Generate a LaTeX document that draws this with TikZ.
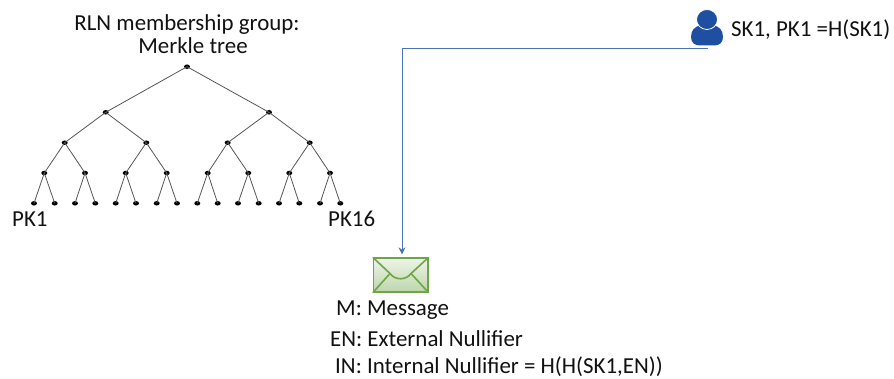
\documentclass[tikz,border=0pt]{standalone}
\usepackage{fontspec}
\usetikzlibrary{arrows.meta,shapes.geometric}
\setmainfont{Carlito}
\definecolor{linkblue}{HTML}{4A72B8}
\definecolor{userblue}{HTML}{1F4FA0}
\definecolor{envgreen}{HTML}{6FA544}
\definecolor{envtop}{HTML}{EDF4E8}
\definecolor{envbot}{HTML}{BDD6AC}
\definecolor{treeline}{HTML}{555555}
\definecolor{txt}{HTML}{111111}
\tikzset{
  treept/.style={ellipse,fill=black,inner sep=0pt,minimum width=6pt,minimum height=4.5pt},
  edge/.style={draw=treeline,line width=0.8pt},
  lab/.style={inner sep=0pt,text=txt,font=\fontsize{22.9}{26}\selectfont},
  labl/.style={lab,anchor=base west},
  envline/.style={envgreen,line width=1.6pt}
}
\begin{document}
\begin{tikzpicture}[x=1pt,y=-1pt]
\useasboundingbox (0,0) rectangle (894,379);
% tree nodes
\node[treept] (r) at (187,66.7) {};
\foreach \n/\x in {1/105.7,2/269}{\node[treept] (a\n) at (\x,112.3) {};}
\foreach \n/\x in {1/64.7,2/146.3,3/227.7,4/309.7}{\node[treept] (b\n) at (\x,142.7) {};}
\foreach \n/\x in {1/44.3,2/85,3/125.7,4/166.7,5/207.7,6/248.3,7/289.3,8/330}{\node[treept] (c\n) at (\x,173) {};}
\foreach \n/\x in {1/34,2/54.7,3/75,4/95.3,5/115.7,6/136,7/156.7,8/177,9/197.3,10/217.7,11/238,12/258.7,13/279,14/299.3,15/320,16/340.3}{\node[treept] (d\n) at (\x,203.3) {};}
% tree edges
\foreach \c in {1,2}{\draw[edge] (r.center) -- (a\c.center);}
\foreach \p/\c in {1/1,1/2,2/3,2/4}{\draw[edge] (a\p.center) -- (b\c.center);}
\foreach \p/\c in {1/1,1/2,2/3,2/4,3/5,3/6,4/7,4/8}{\draw[edge] (b\p.center) -- (c\c.center);}
\foreach \p/\c in {1/1,1/2,2/3,2/4,3/5,3/6,4/7,4/8,5/9,5/10,6/11,6/12,7/13,7/14,8/15,8/16}{\draw[edge] (c\p.center) -- (d\c.center);}
% labels
\node[lab,anchor=base] (title1) at (187,31) {RLN membership group:};
\node[lab,anchor=base] (title2) at (193,54) {Merkle tree};
\node[labl] (pk1) at (12,227) {PK1};
\node[labl] (pk16) at (328,227) {PK16};
\node[labl] (sk) at (731,37) {SK1, PK1 =H(SK1)};
\node[labl] (m) at (336,316) {M: Message};
\node[labl] (en) at (330,346.5) {EN: External Nullifier};
\node[labl] (in) at (335,373) {IN: Internal Nullifier = H(H(SK1,EN))};
% user icon
\fill[userblue] (691,37) .. controls (691,30) and (695,26.5) .. (700,25.5)
  .. controls (704,29) and (710,29) .. (714,25.5)
  .. controls (719,26.5) and (723,30) .. (723,37)
  .. controls (723,43) and (719,45.5) .. (714,45.5) -- (700,45.5)
  .. controls (695,45.5) and (691,43) .. (691,37) -- cycle;
\fill[userblue,draw=white,line width=0.8pt] (707,19.5) ellipse (10.5 and 10);
\coordinate (user) at (708,48);
% envelope
\node[draw=envgreen,line width=1.3pt,top color=envtop,bottom color=envbot,minimum width=54.5pt,minimum height=34pt,inner sep=0pt] (env) at (400.7,275) {};
\draw[envline] (env.north west) -- (390,273.5) .. controls (395,280.5) and (406,280.5) .. (411,273.5) -- (env.north east);
\draw[envline] (env.south west) -- (390,273.5);
\draw[envline] (env.south east) -- (411,273.5);
% connector
\coordinate (elbow) at (402,48);
\draw[linkblue,line width=0.9pt,shorten >=3pt,-{Stealth[length=7pt,width=7pt]}] (user) -- (elbow) -- (elbow |- env.north);
\end{tikzpicture}
\end{document}
